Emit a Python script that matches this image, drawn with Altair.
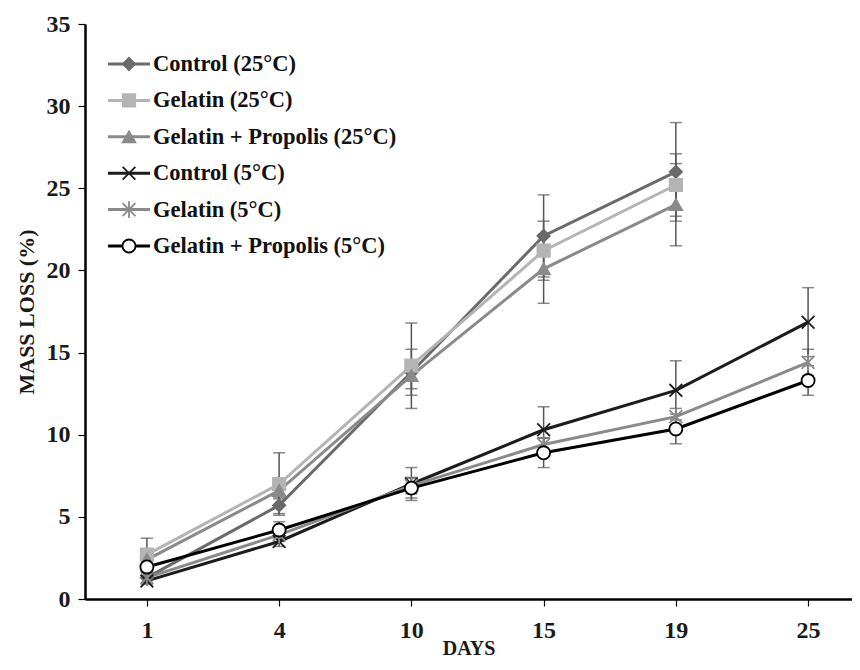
import altair as alt
import pandas as pd

days = ["1", "4", "10", "15", "19", "25"]
series = ["Control (25°C)", "Gelatin (25°C)", "Gelatin + Propolis (25°C)",
          "Control (5°C)", "Gelatin (5°C)", "Gelatin + Propolis (5°C)"]

control25 = [1.3, 5.7, 13.8, 22.1, 26.0, None]
control25_sd = [0.3, 0.5, 1.4, 2.5, 3.0, None]
gelatin25 = [2.7, 7.0, 14.2, 21.2, 25.2, None]
gelatin25_sd = [1.0, 1.9, 2.6, 1.8, 1.9, None]
gp25 = [2.4, 6.6, 13.6, 20.1, 24.0, None]
gp25_sd = [0.4, 0.5, 0.8, 2.1, 2.5, None]
control5 = [1.1, 3.5, 7.0, 10.3, 12.7, 16.85]
control5_sd = [0.2, 0.3, 1.0, 1.4, 1.8, 2.1]
gelatin5 = [1.3, 3.9, 6.9, 9.4, 11.1, 14.4]
gelatin5_sd = [0.3, 0.4, 0.5, 0.4, 0.5, 0.8]
gp5 = [1.95, 4.2, 6.75, 8.9, 10.35, 13.3]
gp5_sd = [0.3, 0.5, 0.6, 0.9, 0.9, 0.9]

values = [control25, gelatin25, gp25, control5, gelatin5, gp5]
sds = [control25_sd, gelatin25_sd, gp25_sd, control5_sd, gelatin5_sd, gp5_sd]

line_colors = ["#6a6a6a", "#b4b4b4", "#8a8a8a", "#1c1c1c", "#8a8a8a", "#000000"]
fill_colors = ["#6a6a6a", "#b4b4b4", "#8a8a8a", "transparent", "transparent", "#ffffff"]
x_path = "M-1,-1L1,1M-1,1L1,-1"
ast_path = "M-1,-1L1,1M-1,1L1,-1M0,-1.3L0,1.3"
shapes = ["diamond", "square", "triangle-up", x_path, ast_path, "circle"]
sizes = [150, 170, 160, 140, 150, 190]
widths = [3, 3, 3, 3, 3, 1.5]

rows = []
for s, vals, errs in zip(series, values, sds):
    for d, v, e in zip(days, vals, errs):
        if v is None:
            continue
        rows.append({"series": s, "day": d, "value": v, "lo": v - e, "hi": v + e})
df = pd.DataFrame(rows)

serif = "Liberation Serif"

x_enc = alt.X("day:O", sort=days,
              scale=alt.Scale(type="point", domain=days, padding=0.40, align=0.585),
              axis=alt.Axis(title="DAYS", labelAngle=0, labelPadding=12, titlePadding=-4))
y_scale = alt.Scale(domain=[0, 35], nice=False)
y_axis = alt.Axis(title="MASS LOSS (%)", values=[0, 5, 10, 15, 20, 25, 30, 35],
                  labelPadding=8, titlePadding=8, titleFontSize=22)

stroke_enc = alt.Stroke("series:N", scale=alt.Scale(domain=series, range=line_colors), legend=None)
fill_enc = alt.Fill("series:N", scale=alt.Scale(domain=series, range=fill_colors), legend=None)
shape_enc = alt.Shape("series:N", scale=alt.Scale(domain=series, range=shapes), legend=None)
size_enc = alt.Size("series:N", scale=alt.Scale(domain=series, range=sizes), legend=None)
width_enc = alt.StrokeWidth("series:N", scale=alt.Scale(domain=series, range=widths), legend=None)

base = alt.Chart(df)

err_rule = base.mark_rule(color="#555555", strokeWidth=1.5).encode(
    x=x_enc, y=alt.Y("lo:Q", scale=y_scale, axis=y_axis), y2="hi:Q")
cap_lo = base.mark_tick(color="#555555", thickness=1.5, size=12).encode(
    x=x_enc, y=alt.Y("lo:Q", scale=y_scale, axis=y_axis))
cap_hi = base.mark_tick(color="#555555", thickness=1.5, size=12).encode(
    x=x_enc, y=alt.Y("hi:Q", scale=y_scale, axis=y_axis))
lines = base.mark_line().encode(
    x=x_enc, y=alt.Y("value:Q", scale=y_scale, axis=y_axis),
    stroke=stroke_enc, strokeWidth=width_enc, detail="series:N")
points = base.mark_point(opacity=1, strokeWidth=1.8).encode(
    x=x_enc, y=alt.Y("value:Q", scale=y_scale, axis=y_axis),
    stroke=stroke_enc, fill=fill_enc, shape=shape_enc, size=size_enc)

data_layer = alt.layer(err_rule, cap_lo, cap_hi, lines, points)

leg_df = pd.DataFrame({"series": series, "idx": list(range(len(series)))})
leg_y = alt.Y("idx:O", scale=alt.Scale(type="point", range=[40, 222], padding=0), axis=None)
leg_base = alt.Chart(leg_df)
leg_rule = leg_base.mark_rule().encode(
    x=alt.value(23), x2=alt.value(65), y=leg_y, stroke=stroke_enc, strokeWidth=width_enc)
leg_pt = leg_base.mark_point(opacity=1, strokeWidth=1.8).encode(
    x=alt.value(44), y=leg_y, stroke=stroke_enc, fill=fill_enc, shape=shape_enc, size=size_enc)
leg_txt = leg_base.mark_text(align="left", baseline="middle", font=serif, fontWeight="bold",
                             fontSize=22.5, color="#111111").encode(
    x=alt.value(68), y=leg_y, text="series:N")
legend_layer = alt.layer(leg_rule, leg_pt, leg_txt)

chart = alt.layer(data_layer, legend_layer).resolve_scale(y="independent").properties(
    width=767, height=575,
    autosize=alt.AutoSizeParams(type="none"),
    padding={"left": 77, "top": 16, "right": 0, "bottom": 63},
).configure_view(stroke=None).configure_axis(
    grid=False, domainColor="black", domainWidth=2.5, tickColor="black", tickWidth=1.2,
    tickSize=7, labelFont=serif, labelFontWeight="bold", labelFontSize=24, labelColor="#1a1a1a",
    titleFont=serif, titleFontWeight="bold", titleFontSize=20, titleColor="#1a1a1a",
)

chart.save("out.html", embed_options={"renderer": "svg", "actions": False})
